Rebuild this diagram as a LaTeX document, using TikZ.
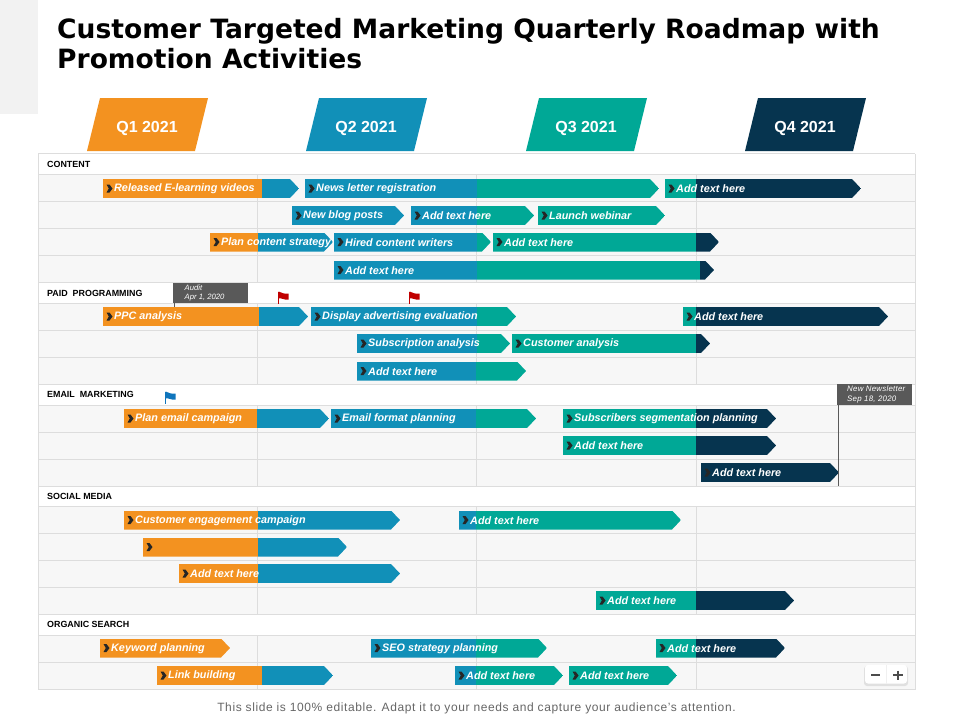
\documentclass[tikz,border=0pt]{standalone}
\usepackage{fontspec}
\setmainfont{Liberation Sans}
\newfontfamily\titlefont{DejaVu Sans}
\definecolor{qorange}{HTML}{F39220}
\definecolor{qblue}{HTML}{1190B8}
\definecolor{qteal}{HTML}{00A896}
\definecolor{qnavy}{HTML}{06344F}
\definecolor{rowbg}{HTML}{F7F7F7}
\definecolor{gridc}{HTML}{DDDDDD}
\definecolor{tagc}{HTML}{595959}
\definecolor{flagred}{HTML}{C00000}
\definecolor{flagblue}{HTML}{0F75BC}
\tikzset{
  quarter/.style={font=\bfseries\fontsize{16}{18}\selectfont,text=white,anchor=center},
  section/.style={font=\bfseries\fontsize{8.9}{10}\selectfont,anchor=west,text=black,inner sep=0pt},
  bartext/.style={font=\bfseries\itshape\fontsize{10.8}{13}\selectfont,text=white,anchor=west,inner sep=0pt},
  tagtext/.style={font=\itshape\fontsize{7.7}{9.8}\selectfont,text=white,anchor=west,inner sep=0pt,align=left},
  grid line/.style={draw=gridc,line width=1pt}
}
% y, x0, xend, text, segments colour/x
\newcommand{\gbar}[5]{%
  \begin{scope}
    \clip (#2,#1-9.5) -- (#3-9,#1-9.5) -- (#3,#1) -- (#3-9,#1+9.5) -- (#2,#1+9.5) -- cycle;
    \foreach \c/\x [remember=\x as \p (initially #2)] in {#5} {
      \fill[\c] (\p,#1-9.5) rectangle (\x+0.3,#1+9.5);
    }
  \end{scope}
  \fill[black!85] (#2+3.5,#1-4) -- (#2+6.5,#1-4) -- (#2+9.5,#1) -- (#2+6.5,#1+4) -- (#2+3.5,#1+4) -- (#2+5.8,#1) -- cycle;
  \node[bartext] (t#1x#2) at (#2+11,#1+0.5) {#4};
}
\newcommand{\qshape}[3]{% x bottom-left, colour, text
  \fill[#2] (#1,151) -- (#1+13,98) -- (#1+121,98) -- (#1+108,151) -- cycle;
  \node[quarter] (q#1) at (#1+60,128.7) {#3};
}
\newcommand{\gflag}[3]{% x, y top, colour
  \draw[#3,line width=0.9pt] (#1,#2) -- (#1,#2+12);
  \fill[#3] (#1,#2) .. controls (#1+3,#2+1) and (#1+6,#2+3) .. (#1+10,#2+2) -- (#1+10,#2+8)
     .. controls (#1+6,#2+9) and (#1+3,#2+6) .. (#1,#2+7) -- cycle;
}
\begin{document}
\begin{tikzpicture}[x=1pt,y=-1pt]
\useasboundingbox (0,0) rectangle (960,720);
\fill[white] (0,0) rectangle (960,720);
\fill[black!5] (0,0) rectangle (38,114);
\node[font=\titlefont\bfseries\fontsize{26.55}{29.3}\selectfont,anchor=north west,inner sep=0pt,align=left] (title) at (57,18.5)
  {Customer Targeted Marketing Quarterly Roadmap with\\Promotion Activities};
\qshape{87}{qorange}{Q1 2021}
\qshape{306}{qblue}{Q2 2021}
\qshape{526}{qteal}{Q3 2021}
\qshape{745}{qnavy}{Q4 2021}
% table rows
\fill[rowbg] (38,175) rectangle (915,283);
\fill[rowbg] (38,304) rectangle (915,385);
\fill[rowbg] (38,406) rectangle (915,487);
\fill[rowbg] (38,507) rectangle (915,615);
\fill[rowbg] (38,636) rectangle (915,690);
\foreach \v in {154,175,202,229,256,283,304,331,358,385,406,433,460,487,507,534,561,588,615,636,663,690}
  \draw[grid line] (38,\v-0.2) -- (915,\v-0.2);
\draw[grid line] (38,154) -- (38,690);
\draw[grid line] (915,154) -- (915,690);
\foreach \x in {257,476,696} {
  \draw[grid line] (\x,175) -- (\x,283);
  \draw[grid line] (\x,304) -- (\x,385);
  \draw[grid line] (\x,406) -- (\x,487);
  \draw[grid line] (\x,507) -- (\x,615);
  \draw[grid line] (\x,636) -- (\x,690);
}
\node[section] (s1) at (47,164.5) {CONTENT};
\node[section] (s2) at (47,293.5) {PAID\ \ PROGRAMMING};
\node[section] (s3) at (47,394.5) {EMAIL\ \ MARKETING};
\node[section] (s4) at (47,496.5) {SOCIAL MEDIA};
\node[section] (s5) at (47,624.5) {ORGANIC SEARCH};
% bars
\gbar{188.5}{103}{299}{Released E-learning videos}{qorange/262,qblue/299}
\gbar{188.5}{305}{659}{News letter registration}{qblue/477,qteal/659}
\gbar{188.5}{665}{861}{Add text here}{qteal/696,qnavy/861}
\gbar{215.5}{292}{404}{New blog posts}{qblue/404}
\gbar{215.5}{411}{534}{Add text here}{qblue/477,qteal/534}
\gbar{215.5}{538}{665}{Launch webinar}{qteal/665}
\gbar{242}{210}{333}{Plan content strategy}{qorange/258,qblue/333}
\gbar{242}{334}{491}{Hired content writers}{qblue/477,qteal/491}
\gbar{242}{493}{719}{Add text here}{qteal/696,qnavy/719}
\gbar{270}{334}{714}{Add text here}{qblue/477,qteal/700,qnavy/714}
\gbar{316.5}{103}{308}{PPC analysis}{qorange/259,qblue/308}
\gbar{316.5}{311}{516}{Display advertising evaluation}{qblue/477,qteal/516}
\gbar{316.5}{683}{888}{Add text here}{qteal/696,qnavy/888}
\gbar{343.5}{357}{510}{Subscription analysis}{qblue/477,qteal/510}
\gbar{343.5}{512}{710}{Customer analysis}{qteal/696,qnavy/710}
\gbar{371}{357}{526}{Add text here}{qblue/476,qteal/526}
\gbar{418.5}{124}{329}{Plan email campaign}{qorange/257,qblue/329}
\gbar{418.5}{331}{536}{Email format planning}{qblue/476,qteal/536}
\gbar{418.5}{563}{776}{Subscribers segmentation planning}{qteal/696,qnavy/776}
\gbar{445.5}{563}{776}{Add text here}{qteal/696,qnavy/776}
\gbar{472.5}{701}{839}{Add text here}{qnavy/839}
\gbar{520}{124}{400}{Customer engagement campaign}{qorange/258,qblue/400}
\gbar{520}{459}{681}{Add text here}{qblue/476,qteal/681}
\gbar{547}{143}{347}{}{qorange/258,qblue/347}
\gbar{573.5}{179}{400}{Add text here}{qorange/258,qblue/400}
\gbar{600.5}{596}{794}{Add text here}{qteal/696,qnavy/794}
\gbar{648}{100}{230}{Keyword planning}{qorange/230}
\gbar{648}{371}{547}{SEO strategy planning}{qblue/476,qteal/547}
\gbar{648}{656}{785}{Add text here}{qteal/696,qnavy/785}
\gbar{675.5}{157}{333}{Link building}{qorange/262,qblue/333}
\gbar{675.5}{455}{563}{Add text here}{qblue/476,qteal/563}
\gbar{675.5}{569}{677}{Add text here}{qteal/677}
% milestones
\draw[tagc,line width=0.8pt] (174.5,303) -- (174.5,307);
\fill[tagc] (173,283) rectangle (248,303);
\node[tagtext] (audit) at (184.5,293) {Audit\\Apr 1, 2020};
\draw[tagc,line width=0.8pt] (838.5,405) -- (838.5,486);
\fill[tagc] (837,384) rectangle (912,405);
\node[tagtext,font=\itshape\addfontfeature{LetterSpace=3}\fontsize{7.9}{9.8}\selectfont] (news) at (847,394.5) {New Newsletter\\Sep 18, 2020};
\gflag{278.5}{291.5}{flagred}
\gflag{409.5}{291.5}{flagred}
\gflag{165.5}{391.5}{flagblue}
% zoom control
\fill[black!12,rounded corners=3pt] (864,666) rectangle (908,686);
\fill[white,rounded corners=3pt] (865,665) rectangle (907,683.5);
\draw[black!6] (886,665) -- (886,683.5);
\draw[black!70,line width=2pt] (871,675) -- (880,675);
\draw[black!70,line width=2pt] (893,675) -- (902.5,675) (897.75,670.5) -- (897.75,679.5);
\node[font=\addfontfeature{LetterSpace=5}\fontsize{12}{14}\selectfont,text=black!60,anchor=center,inner sep=0pt] (foot) at (476.5,708)
  {This slide is 100\% editable. Adapt it to your needs and capture your audience's attention.};
\end{tikzpicture}
\end{document}
